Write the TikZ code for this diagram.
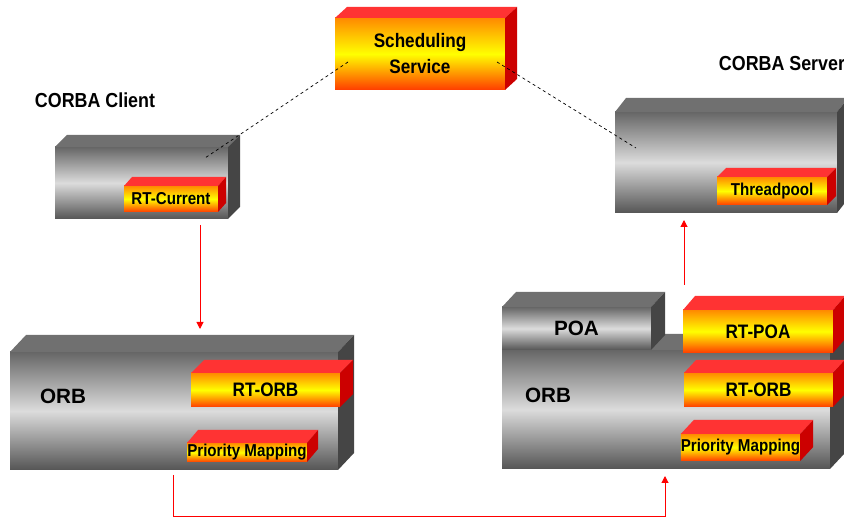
\documentclass[tikz,border=0pt]{standalone}
\usepackage{fontspec}
\setmainfont{Liberation Sans}
\newfontfamily\condfont{Liberation Sans}[FakeStretch=0.88]
\usetikzlibrary{arrows.meta,calc}
\definecolor{gtopface}{HTML}{707070}
\definecolor{gsideface}{HTML}{454545}
\definecolor{gfa}{HTML}{666666}
\definecolor{gfb}{HTML}{DCDCDC}
\definecolor{gfc}{HTML}{555555}
\definecolor{rtopface}{HTML}{FF3333}
\definecolor{rsideface}{HTML}{CC0000}
\definecolor{rfa}{HTML}{FF8A00}
\definecolor{rfb}{HTML}{FFFF00}
\definecolor{rfc}{HTML}{FF3C00}
\newcommand{\drawfaces}[5]{%
  \fill[#4] (#1.north west) -- ++(#2,-#3) -- ([shift={(#2,-#3)}]#1.north east) -- (#1.north east) -- cycle;
  \fill[#5] (#1.north east) -- ++(#2,-#3) -- ([shift={(#2,-#3)}]#1.south east) -- (#1.south east) -- cycle;}
\tikzset{
  gfront/.style={inner sep=0pt, outer sep=0pt, top color=gfa, bottom color=gfc, middle color=gfb},
  rfront/.style={inner sep=0pt, outer sep=0pt, top color=rfa, bottom color=rfc, middle color=rfb, text=black},
  fbig/.style={font=\bfseries\fontsize{20.7}{24}\selectfont},
  fmid/.style={font=\condfont\bfseries\fontsize{19.5}{26}\selectfont},
  flabel/.style={font=\condfont\bfseries\fontsize{20.3}{24}\selectfont},
  fsmall/.style={font=\condfont\bfseries\fontsize{17.2}{20}\selectfont},
  redarrow/.style={draw=red, line width=1pt, -{Triangle[length=7pt,width=7pt]}},
  dashlink/.style={draw=black, line width=0.7pt, dash pattern=on 3pt off 3pt}
}
\begin{document}
\begin{tikzpicture}[x=1pt,y=-1pt]
\useasboundingbox (0,0) rectangle (844,518);
% gray boxes
\node[gfront, minimum width=173, minimum height=72] (cl) at (141.5,183) {};
\drawfaces{cl}{12}{12}{gtopface}{gsideface}
\node[gfront, minimum width=222, minimum height=101] (srv) at (726,162.5) {};
\drawfaces{srv}{11}{14}{gtopface}{gsideface}
\node[gfront, minimum width=328, minimum height=118] (orbL) at (174,411) {};
\drawfaces{orbL}{16}{17}{gtopface}{gsideface}
\node[gfront, minimum width=328, minimum height=119] (orbR) at (666,409.5) {};
\drawfaces{orbR}{15}{16}{gtopface}{gsideface}
\node[gfront, fbig, minimum width=149, minimum height=43] (poa) at (576.5,328.5) {POA};
\drawfaces{poa}{14}{15}{gtopface}{gsideface}
% labels
\node[flabel] (clientlbl) at (95,100) {CORBA Client};
\node[flabel] (serverlbl) at (782,64) {CORBA Server};
\node[fbig] (orbLtxt) at (63,396) {ORB};
\node[fbig] (orbRtxt) at (548,395) {ORB};
% red boxes
\node[rfront, fmid, align=center, minimum width=170, minimum height=72] (sched) at (420,54) {Scheduling\\Service};
\drawfaces{sched}{12}{11}{rtopface}{rsideface}
\node[rfront, fsmall, minimum width=94, minimum height=26] (rtcur) at (171,199) {RT-Current};
\drawfaces{rtcur}{8}{9}{rtopface}{rsideface}
\node[rfront, fsmall, minimum width=110, minimum height=28] (tpool) at (772,191) {Threadpool};
\drawfaces{tpool}{9}{9}{rtopface}{rsideface}
\node[rfront, fmid, minimum width=149, minimum height=34] (rtorbL) at (265.5,390) {RT-ORB};
\drawfaces{rtorbL}{13}{13}{rtopface}{rsideface}
\node[rfront, fsmall, minimum width=120, minimum height=19] (pmL) at (247,452.5) {Priority Mapping};
\drawfaces{pmL}{11}{13}{rtopface}{rsideface}
\node[rfront, fmid, minimum width=150, minimum height=43] (rtpoa) at (758,331.5) {RT-POA};
\drawfaces{rtpoa}{12}{14}{rtopface}{rsideface}
\node[rfront, fmid, minimum width=149, minimum height=34] (rtorbR) at (758.5,390) {RT-ORB};
\drawfaces{rtorbR}{12}{13}{rtopface}{rsideface}
\node[rfront, fsmall, minimum width=117, minimum height=27] (pmR) at (740.5,447.5) {Priority Mapping};
\drawfaces{pmR}{13}{14}{rtopface}{rsideface}
% dashed links
\draw[dashlink] ($(sched.west)+(13,8)$) -- ($(cl.north east)+(-23,11)$);
\draw[dashlink] ($(sched.east)+(-8,8)$) -- ($(srv.north west)+(21,36)$);
% red arrows
\coordinate (a1) at ($(cl.south)+(58.5,6)$);
\draw[redarrow] (a1) -- ($(a1 |- orbL.north)+(0,-23)$);
\coordinate (a2) at ($(srv.south)+(-42,7)$);
\draw[redarrow] ($(a2 |- rtpoa.north)+(0,-25)$) -- (a2);
\coordinate (b1) at ($(orbL.south)+(-1,5)$);
\coordinate (b2) at ($(orbR.south)+(-1,7)$);
\draw[redarrow] (b1) -- ($(b1)+(0,42)$) -| (b2);
\end{tikzpicture}
\end{document}
